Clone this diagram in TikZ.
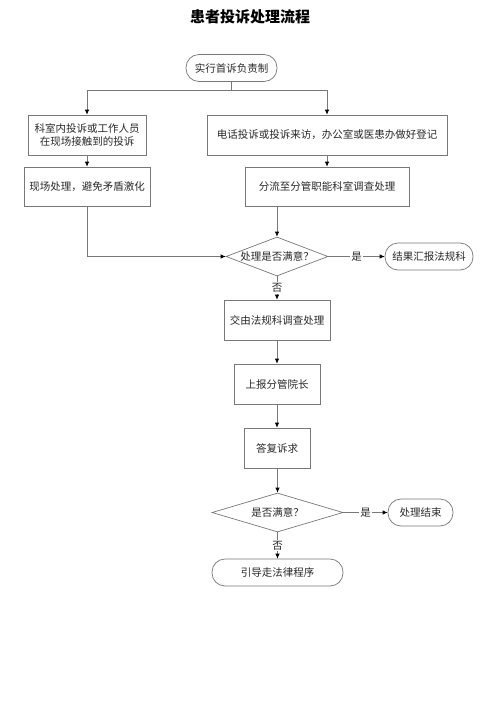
\documentclass[tikz,border=0pt]{standalone}
\usepackage{fontspec}
\setmainfont{Noto Sans CJK SC}
\usetikzlibrary{arrows.meta,shapes.geometric}
\definecolor{linegray}{RGB}{120,120,120}
\definecolor{txt}{RGB}{40,40,40}
\tikzset{
  every node/.style={text=txt,font=\fontsize{10.5}{13}\selectfont},
  procbox/.style={draw=linegray,line width=0.7pt,inner sep=0pt,align=center},
  termbox/.style={draw=linegray,line width=0.7pt,rounded corners=13pt,inner sep=0pt,minimum height=27pt},
  decision/.style={draw=linegray,line width=0.7pt,diamond,inner sep=0pt},
  conn/.style={draw=linegray,line width=0.7pt},
  arr/.style={conn,-{Latex[length=5pt,width=4.5pt,color=black]}},
  lbl/.style={fill=white,inner sep=1pt}
}
\begin{document}
\begin{tikzpicture}[x=1pt,y=-1pt]
\useasboundingbox (0,0) rectangle (500,707);
\node[font=\fontsize{15}{18}\selectfont\bfseries,text=black] (title) at (250,17) {患者投诉处理流程};
\node[termbox,minimum width=91pt] (start) at (231.5,68) {实行首诉负责制};
\node[procbox,minimum width=118pt,minimum height=40pt] (lb1) at (87,135) {科室内投诉或工作人员\\在现场接触到的投诉};
\node[procbox,minimum width=240pt,minimum height=40pt] (rb1) at (327,135) {电话投诉或投诉来访，办公室或医患办做好登记};
\node[procbox,minimum width=126pt,minimum height=39pt] (lb2) at (87,186.5) {现场处理，避免矛盾激化};
\node[procbox,minimum width=164pt,minimum height=39pt] (rb2) at (327,186.5) {分流至分管职能科室调查处理};
\node[decision,minimum width=102pt,minimum height=39pt] (d1) at (277,256.5) {\makebox[0pt]{处理是否满意？}};
\node[termbox,minimum width=88pt] (res) at (429,256.5) {结果汇报法规科};
\node[procbox,minimum width=106pt,minimum height=40pt] (b3) at (277,320) {交由法规科调查处理};
\node[procbox,minimum width=86pt,minimum height=40pt] (b4) at (277,384) {上报分管院长};
\node[procbox,minimum width=66pt,minimum height=40pt] (b5) at (277,448) {答复诉求};
\node[decision,minimum width=131pt,minimum height=39pt] (d2) at (277.5,512.5) {\makebox[0pt]{是否满意？}};
\node[termbox,minimum width=65pt] (fin) at (420.5,512.5) {处理结束};
\node[termbox,minimum width=131pt] (legal) at (277.5,572.5) {引导走法律程序};
\coordinate (split) at (231.5,90);
\draw[conn] (start.south) -- (split);
\draw[arr] (split) -| (lb1.north);
\draw[arr] (split) -| (rb1.north);
\draw[arr] (lb1.south) -- (lb2.north);
\draw[arr] (rb1.south) -- (rb2.north);
\draw[arr] (lb2.south) |- (d1.west);
\draw[arr] (rb2.south -| d1.north) -- (d1.north);
\draw[arr] (d1.east) -- node[lbl] (y1) {是} (res.west);
\draw[arr] (d1.south) -- node[lbl] (n1) {否} (b3.north);
\draw[arr] (b3.south) -- (b4.north);
\draw[arr] (b4.south) -- (b5.north);
\draw[arr] (b5.south -| d2.north) -- (d2.north);
\draw[arr] (d2.east) -- node[lbl] (y2) {是} (fin.west);
\draw[arr] (d2.south) -- node[lbl] (n2) {否} (legal.north);
\end{tikzpicture}
\end{document}
